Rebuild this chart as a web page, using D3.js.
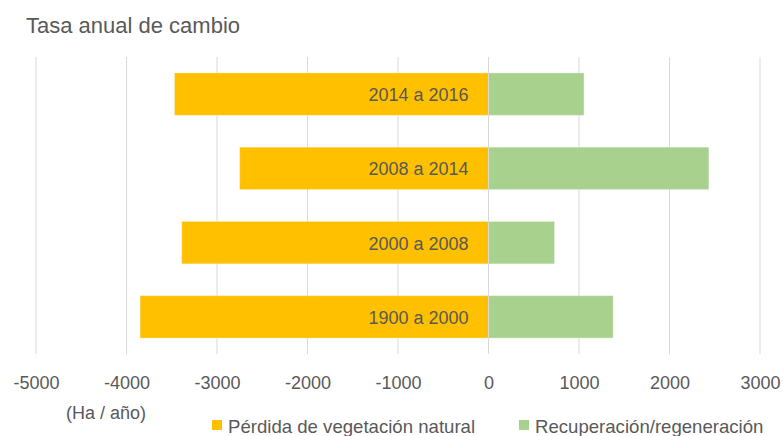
<!DOCTYPE html>
<html>
<head>
<meta charset="utf-8">
<script src="https://cdn.jsdelivr.net/npm/d3@7"></script>
<style>
  html, body { margin: 0; padding: 0; background: #fff; }
  svg { display: block; font-family: "Liberation Sans", Arial, sans-serif; }
</style>
</head>
<body>
<svg id="chart" width="783" height="436"></svg>
<script>
// Periods, top to bottom
const periods = ["2014 a 2016", "2008 a 2014", "2000 a 2008", "1900 a 2000"];
// Annual rates (ha / year)
const loss     = [-3470, -2750, -3390, -3850];
const recovery = [1055, 2435, 730, 1378];
const xTicks   = [-5000, -4000, -3000, -2000, -1000, 0, 1000, 2000, 3000];
const seriesNames = ["Pérdida de vegetación natural", "Recuperación/regeneración"];
const seriesColors = ["#FFC000", "#A9D18E"];

const svg = d3.select("#chart");
const textColor = "#595959";

const x = d3.scaleLinear().domain([-5000, 3000]).range([36, 760]);
const y = d3.scaleBand().domain(periods).range([57, 354])
  .paddingInner(0.428).paddingOuter(0.214);

// Title
svg.append("text")
  .attr("x", 26).attr("y", 33)
  .attr("fill", textColor)
  .style("font-size", "22px")
  .text("Tasa anual de cambio");

// Vertical gridlines
svg.append("g").selectAll("line")
  .data(xTicks).join("line")
  .attr("x1", d => x(d)).attr("x2", d => x(d))
  .attr("y1", 57).attr("y2", 354)
  .attr("stroke", "#d9d9d9").attr("stroke-width", 1);

// Bottom axis labels (no domain line or tick marks), plain hyphen for negatives
const xAxis = d3.axisBottom(x).tickValues(xTicks).tickSize(0).tickPadding(0)
  .tickFormat(d => String(d));
const gx = svg.append("g").attr("transform", "translate(0,376)").call(xAxis);
gx.select(".domain").remove();
gx.selectAll("text")
  .attr("fill", textColor)
  .attr("dy", "0.71em")
  .style("font-size", "18px")
  .style("font-family", "'Liberation Sans', Arial, sans-serif");

// Unit caption
svg.append("text")
  .attr("x", 106).attr("y", 419)
  .attr("text-anchor", "middle")
  .attr("fill", textColor)
  .style("font-size", "18px")
  .text("(Ha / año)");

// Loss bars
svg.append("g").selectAll("rect")
  .data(periods).join("rect")
  .attr("x", (d, i) => x(loss[i]))
  .attr("width", (d, i) => x(0) - x(loss[i]))
  .attr("y", d => y(d))
  .attr("height", y.bandwidth())
  .attr("fill", seriesColors[0])
  .attr("stroke", "#ffffff").attr("stroke-opacity", 0.35).attr("stroke-width", 1);

// Recovery bars
svg.append("g").selectAll("rect")
  .data(periods).join("rect")
  .attr("x", x(0))
  .attr("width", (d, i) => x(recovery[i]) - x(0))
  .attr("y", d => y(d))
  .attr("height", y.bandwidth())
  .attr("fill", seriesColors[1])
  .attr("stroke", "#ffffff").attr("stroke-opacity", 0.35).attr("stroke-width", 1);

// Zero line over the bars
svg.append("line")
  .attr("x1", x(0)).attr("x2", x(0))
  .attr("y1", 57).attr("y2", 354)
  .attr("stroke", "#d9d9d9").attr("stroke-width", 1);

// Period labels inside the loss bars
svg.append("g").selectAll("text")
  .data(periods).join("text")
  .attr("x", x(0) - 20)
  .attr("y", d => y(d) + y.bandwidth() / 2 + 7)
  .attr("text-anchor", "end")
  .attr("fill", textColor)
  .style("font-size", "18px")
  .text(d => d);

// Legend
const legendX = [212, 519];
const legend = svg.append("g").selectAll("g")
  .data(seriesNames).join("g")
  .attr("transform", (d, i) => `translate(${legendX[i]},0)`);
legend.append("rect")
  .attr("x", 0).attr("y", 420).attr("width", 10).attr("height", 10)
  .attr("fill", (d, i) => seriesColors[i]);
legend.append("text")
  .attr("x", 16).attr("y", 433)
  .attr("fill", textColor)
  .style("font-size", "18.6px")
  .text(d => d);
</script>
</body>
</html>
